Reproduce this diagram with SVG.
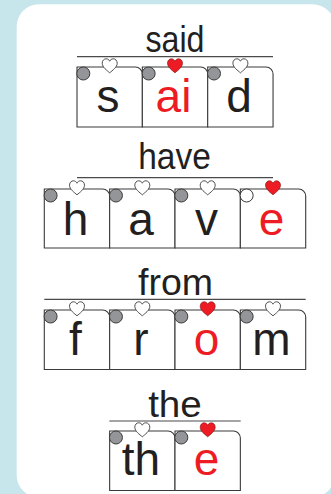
<svg xmlns="http://www.w3.org/2000/svg" xmlns:xlink="http://www.w3.org/1999/xlink" width="331" height="494" viewBox="0 0 331 494">
<style>
.tile{fill:#fff;stroke:#3a3a3a;stroke-width:1.1}
.dot{fill:#939598;stroke:#3a3a3a;stroke-width:1}
.dotw{fill:#fff;stroke:#3a3a3a;stroke-width:1}
.hw{fill:#fff;stroke:#3a3a3a;stroke-width:0.9}
.hr{fill:#ed1c24;stroke:#8a1a1a;stroke-width:0.7}
.rule{stroke:#4a4a4a;stroke-width:1.2}
.title{font-family:"Liberation Sans",Arial,sans-serif;font-size:36px;fill:#231f20;text-anchor:middle}
.let{font-family:"Liberation Sans",Arial,sans-serif;font-size:46px;fill:#231f20;text-anchor:middle}
.red{fill:#ed1c24}
</style>
<defs>
<path id="heart" d="M0,7 C-2.5,4.8 -7.5,1.5 -7.5,-2.6 C-7.5,-5.3 -5.6,-7 -3.6,-7 C-1.9,-7 -0.6,-6 0,-4.6 C0.6,-6 1.9,-7 3.6,-7 C5.6,-7 7.5,-5.3 7.5,-2.6 C7.5,1.5 2.5,4.8 0,7 Z"/>
</defs>
<rect width="331" height="494" fill="#c6e6ec"/>
<rect x="16.7" y="4.3" width="318" height="493" rx="22" fill="#fff"/>

<g id="word-said">
<text class="title" x="175" y="52.3" textLength="59" lengthAdjust="spacingAndGlyphs">said</text>
<line class="rule" x1="77" y1="56.7" x2="273" y2="56.7"/>
<g id="said-s">
<path class="tile" d="M77,127 V67 H135.35 A7,7 0 0 1 142.35,74 V127 Z"/>
<circle class="dot" cx="83.3" cy="73.5" r="6.5"/>
<use href="#heart" x="109.7" y="65.8" class="hw"/>
<text class="let" x="108" y="112">s</text>
</g>
<g id="said-ai">
<path class="tile" d="M142.35,127 V67 H200.7 A7,7 0 0 1 207.7,74 V127 Z"/>
<circle class="dot" cx="148.65" cy="73.5" r="6.5"/>
<use href="#heart" x="175" y="65.8" class="hr"/>
<text class="let red" x="173.5" y="112">ai</text>
</g>
<g id="said-d">
<path class="tile" d="M207.7,127 V67 H266.05 A7,7 0 0 1 273.05,74 V127 Z"/>
<circle class="dot" cx="214" cy="73.5" r="6.5"/>
<use href="#heart" x="240.4" y="65.8" class="hw"/>
<text class="let" x="239" y="112">d</text>
</g>
</g>

<g id="word-have">
<text class="title" x="174.5" y="169.3" textLength="72.7" lengthAdjust="spacingAndGlyphs">have</text>
<line class="rule" x1="77" y1="177.7" x2="273" y2="177.7"/>
<g id="have-h">
<path class="tile" d="M44.3,248 V189 H102.65 A7,7 0 0 1 109.65,196 V248 Z"/>
<circle class="dot" cx="50.6" cy="195.5" r="6.5"/>
<use href="#heart" x="77" y="187.8" class="hw"/>
<text class="let" x="75.5" y="235">h</text>
</g>
<g id="have-a">
<path class="tile" d="M109.65,248 V189 H168 A7,7 0 0 1 175,196 V248 Z"/>
<circle class="dot" cx="115.95" cy="195.5" r="6.5"/>
<use href="#heart" x="142.3" y="187.8" class="hw"/>
<text class="let" x="141" y="235">a</text>
</g>
<g id="have-v">
<path class="tile" d="M175,248 V189 H233.35 A7,7 0 0 1 240.35,196 V248 Z"/>
<circle class="dot" cx="181.3" cy="195.5" r="6.5"/>
<use href="#heart" x="207.7" y="187.8" class="hw"/>
<text class="let" x="206.5" y="235">v</text>
</g>
<g id="have-e">
<path class="tile" d="M240.35,248 V189 H298.7 A7,7 0 0 1 305.7,196 V248 Z"/>
<circle class="dotw" cx="246.65" cy="195.5" r="6.5"/>
<use href="#heart" x="273" y="187.8" class="hr"/>
<text class="let red" x="271.5" y="235">e</text>
</g>
</g>

<g id="word-from">
<text class="title" x="175.5" y="295" textLength="75" lengthAdjust="spacingAndGlyphs">from</text>
<line class="rule" x1="44.3" y1="299.3" x2="305.7" y2="299.3"/>
<g id="from-f">
<path class="tile" d="M44.3,369.5 V310 H102.65 A7,7 0 0 1 109.65,317 V369.5 Z"/>
<circle class="dot" cx="50.6" cy="316.5" r="6.5"/>
<use href="#heart" x="77" y="308.8" class="hw"/>
<text class="let" x="75.5" y="355">f</text>
</g>
<g id="from-r">
<path class="tile" d="M109.65,369.5 V310 H168 A7,7 0 0 1 175,317 V369.5 Z"/>
<circle class="dot" cx="115.95" cy="316.5" r="6.5"/>
<use href="#heart" x="142.3" y="308.8" class="hw"/>
<text class="let" x="141" y="355">r</text>
</g>
<g id="from-o">
<path class="tile" d="M175,369.5 V310 H233.35 A7,7 0 0 1 240.35,317 V369.5 Z"/>
<circle class="dot" cx="181.3" cy="316.5" r="6.5"/>
<use href="#heart" x="207.7" y="308.8" class="hr"/>
<text class="let red" x="206.5" y="355">o</text>
</g>
<g id="from-m">
<path class="tile" d="M240.35,369.5 V310 H298.7 A7,7 0 0 1 305.7,317 V369.5 Z"/>
<circle class="dot" cx="246.65" cy="316.5" r="6.5"/>
<use href="#heart" x="273" y="308.8" class="hw"/>
<text class="let" x="271.5" y="355">m</text>
</g>
</g>

<g id="word-the">
<text class="title" x="175" y="416.7" textLength="53.7" lengthAdjust="spacingAndGlyphs">the</text>
<line class="rule" x1="109.3" y1="421" x2="240.7" y2="421"/>
<g id="the-th">
<path class="tile" d="M109.65,490.5 V431 H168 A7,7 0 0 1 175,438 V490.5 Z"/>
<circle class="dot" cx="115.95" cy="437.5" r="6.5"/>
<use href="#heart" x="142.3" y="429.8" class="hw"/>
<text class="let" x="141" y="475">th</text>
</g>
<g id="the-e">
<path class="tile" d="M175,490.5 V431 H233.35 A7,7 0 0 1 240.35,438 V490.5 Z"/>
<circle class="dot" cx="181.3" cy="437.5" r="6.5"/>
<use href="#heart" x="207.7" y="429.8" class="hr"/>
<text class="let red" x="206.5" y="475">e</text>
</g>
</g>
</svg>
